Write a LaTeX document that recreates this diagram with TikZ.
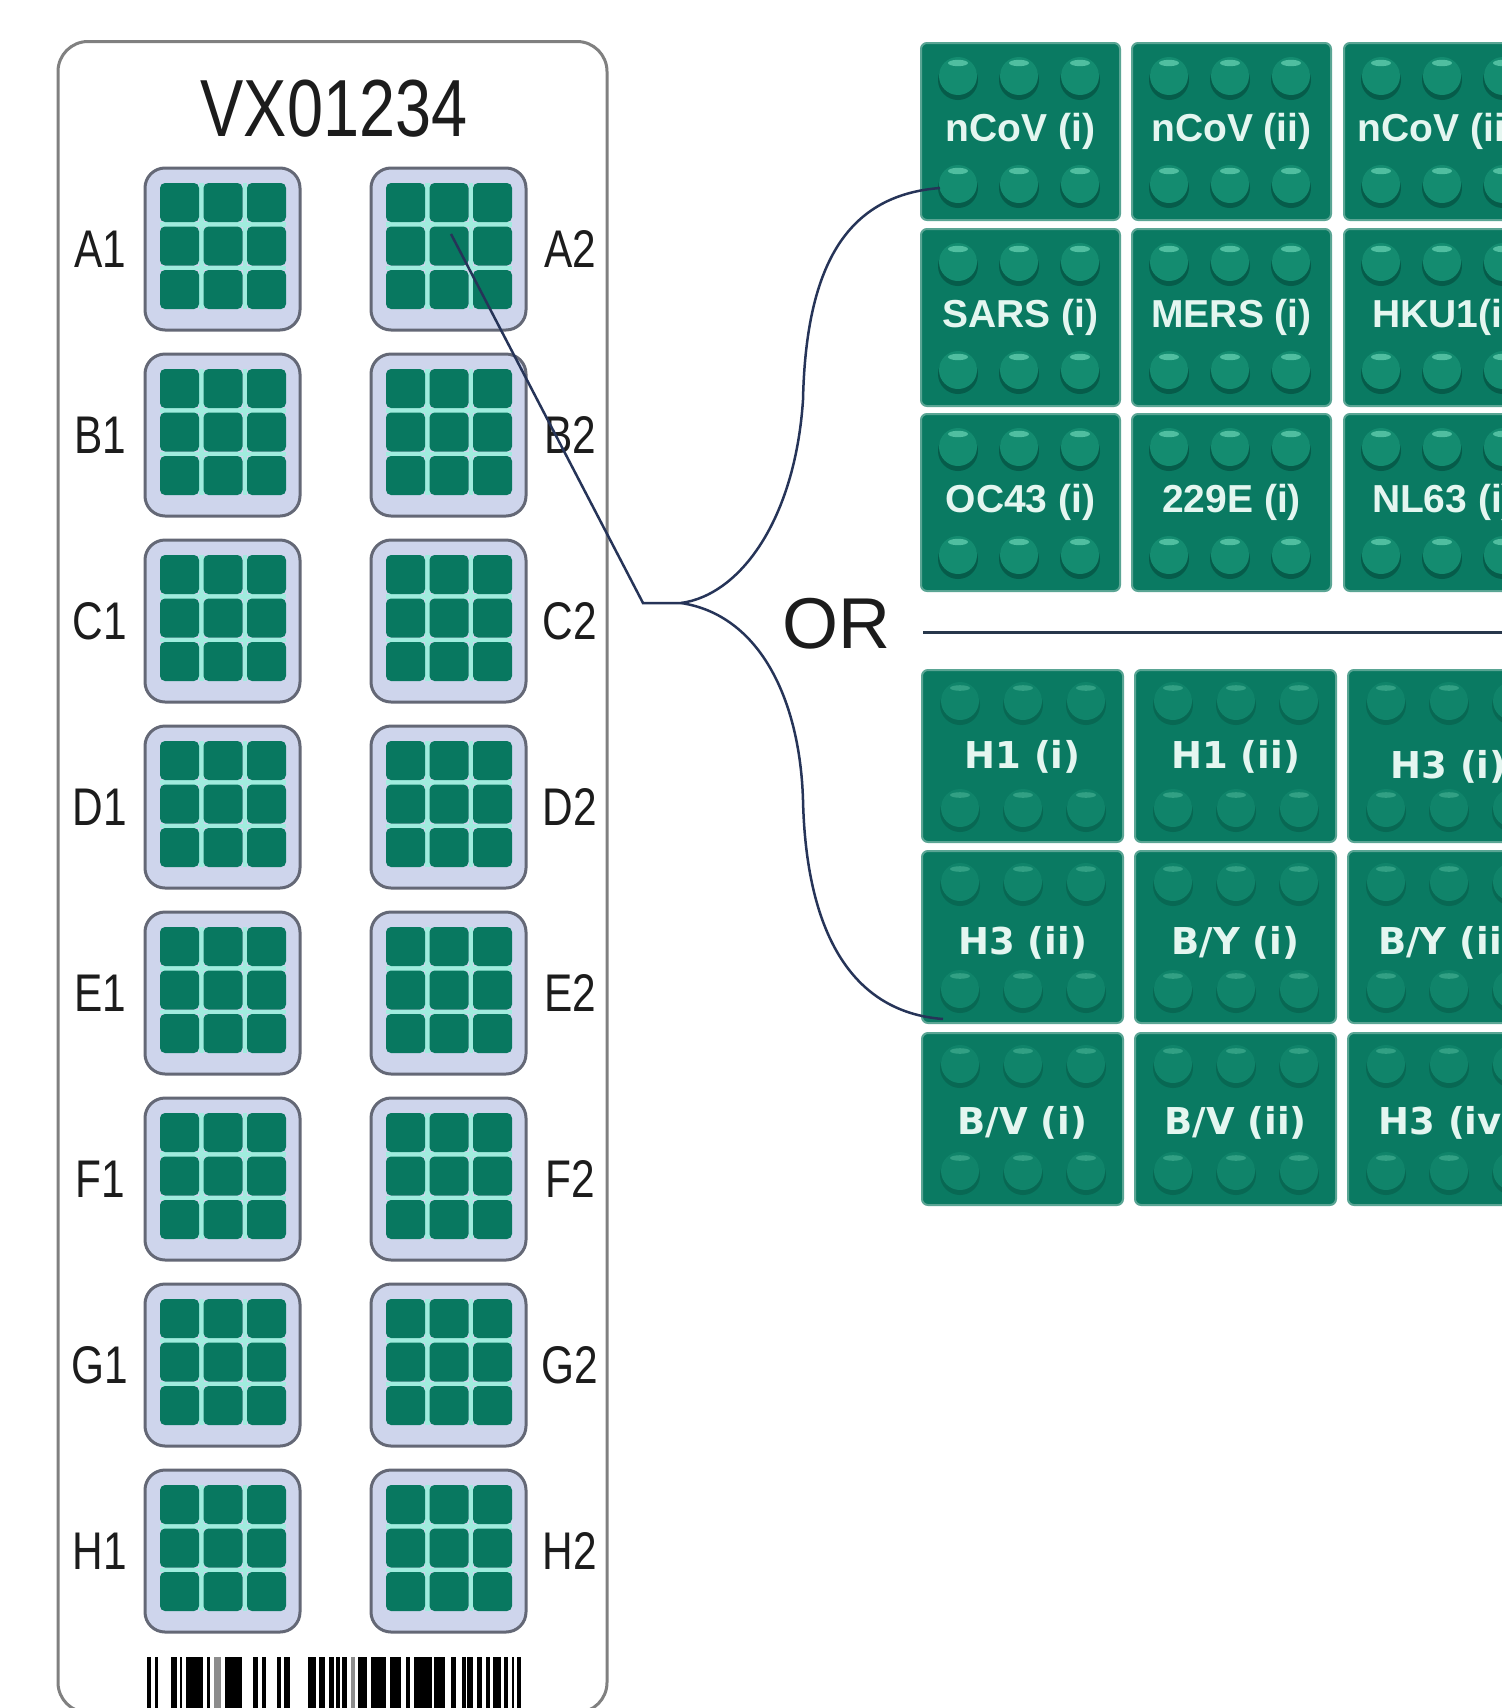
\documentclass[tikz,border=0pt]{standalone}
\usepackage{fontspec}
\setmainfont{Liberation Sans}
\newfontfamily\cardfont[FakeStretch=0.8]{Liberation Sans}
\newfontfamily\botfont{DejaVu Sans}
\definecolor{cellgreen}{RGB}{10,122,98}
\definecolor{celledge}{RGB}{90,165,148}
\definecolor{topbump}{RGB}{20,140,112}
\definecolor{topshadow}{RGB}{6,92,74}
\definecolor{tophi}{RGB}{80,190,160}
\definecolor{botbump}{RGB}{16,132,106}
\definecolor{botshadow}{RGB}{8,104,83}
\definecolor{bothi}{RGB}{50,160,132}
\definecolor{celltext}{RGB}{228,246,240}
\definecolor{wellgreen}{RGB}{8,120,96}
\definecolor{wellfill}{RGB}{206,213,236}
\definecolor{wellgray}{RGB}{100,104,118}
\definecolor{gapcyan}{RGB}{160,236,222}
\definecolor{cardgray}{RGB}{128,128,128}
\definecolor{labelgray}{RGB}{28,28,28}
\definecolor{linkblue}{RGB}{38,52,88}
\definecolor{sepline}{RGB}{40,55,75}
\tikzset{
  card/.style={draw=cardgray, line width=1.5pt, rounded corners=15pt, minimum width=274.5pt, minimum height=835.5pt, inner sep=0pt, fill=white},
  well/.style={draw=wellgray, line width=1.5pt, fill=wellfill, rounded corners=10pt, minimum width=77.5pt, minimum height=81pt, inner sep=0pt},
  wcell/.style={fill=wellgreen, minimum size=19.5pt, rounded corners=2.5pt, inner sep=0pt},
  gapline/.style={draw=gapcyan, line width=2.25pt},
  welllabel/.style={font=\cardfont\fontsize{26.5pt}{26.5pt}\selectfont, text=labelgray, inner sep=0pt},
  titlelabel/.style={font=\cardfont\fontsize{40.5pt}{40.5pt}\selectfont, text=labelgray, inner sep=0pt},
  panelcell/.style={fill=cellgreen, draw=celledge, line width=1pt, rounded corners=3pt, inner sep=0pt},
  topcellst/.style={panelcell, minimum width=99.5pt, minimum height=88.5pt},
  botcellst/.style={panelcell, minimum width=100.5pt, minimum height=86pt},
  toptext/.style={font=\bfseries\fontsize{19.5pt}{19.5pt}\selectfont, text=celltext, inner sep=0pt},
  bottext/.style={font=\botfont\bfseries\fontsize{18.5pt}{18.5pt}\selectfont, text=celltext, inner sep=0pt},
  ortext/.style={font=\fontsize{36pt}{36pt}\selectfont, text=labelgray, inner sep=0pt},
  link/.style={draw=linkblue, line width=1.25pt},
  sep/.style={draw=sepline, line width=1.5pt}
}
\newcommand\topcell[4]{%
  \node[topcellst] (#1) at (#2+99.5,#3+88.5) {};
  \foreach \bx in {37,98,159}{\foreach \by in {33,141}{%
    \fill[topshadow] (#2+\bx,#3+\by+4) circle[radius=10pt];
    \fill[topbump] (#2+\bx,#3+\by) circle[radius=9.5pt];
    \fill[tophi] (#2+\bx,#3+\by-13) ellipse[x radius=5pt, y radius=1.6pt];
  }}
  \node[toptext] (#1-txt) at (#2+99.5,#3+88) {#4};
}
\newcommand\botcell[5]{%
  \node[botcellst] (#1) at (#2+100.5,#3+86) {};
  \foreach \bx in {38,101,164}{\foreach \by in {31,138}{%
    \fill[botshadow] (#2+\bx,#3+\by+4) circle[radius=10pt];
    \fill[botbump] (#2+\bx,#3+\by) circle[radius=9.5pt];
    \fill[bothi] (#2+\bx,#3+\by-13) ellipse[x radius=5pt, y radius=1.4pt];
  }}
  \node[bottext] (#1-txt) at (#2+100.5,#3+#5) {#4};
}
\begin{document}
\begin{tikzpicture}[x=0.5pt,y=-0.5pt]
\useasboundingbox (0,0) rectangle (1502,1708);
\clip (0,0) rectangle (1502,1708);
\fill[white] (0,0) rectangle (1502,1708);

% card
\node[card] (card) at (332.5,877) {};
\node[titlelabel, anchor=base] (title) at (334,136) {VX01234};

% wells
\foreach \r [count=\i from 0] in {A,B,C,D,E,F,G,H}{
  \pgfmathsetmacro\wt{168+186*\i}
  \foreach \c/\wx/\lx in {1/145/100, 2/371/570}{
    \node[well] (w\r\c) at (\wx+77.5,\wt+81) {};
    \draw[gapline] (\wx+56.25,\wt+15) -- (\wx+56.25,\wt+141);
    \draw[gapline] (\wx+99.75,\wt+15) -- (\wx+99.75,\wt+141);
    \draw[gapline] (\wx+15,\wt+56.25) -- (\wx+141,\wt+56.25);
    \draw[gapline] (\wx+15,\wt+99.75) -- (\wx+141,\wt+99.75);
    \foreach \p in {0,1,2}{\foreach \q in {0,1,2}{
      \node[wcell] (w\r\c-\p\q) at (\wx+34.5+43.5*\p,\wt+34.5+43.5*\q) {};
    }}
    \node[welllabel] (l\r\c) at (\lx,\wt+81) {\r\c};
  }
}

% barcode
\foreach \a/\b in {147/151,155/158,171/177,180/182,186/203,207/210,225/242,253/258,262/266,277/281,284/290,308/316,319/325,329/334,336/340,342/347,358/367,371/386,390/401,406/410,414/432,434/445,451/456,462/466,467/473,477/482,486/490,493/501,504/508,512/514,517/521}{
  \fill[black] (\a,1657) rectangle (\b,1720);
}
\foreach \a/\b in {214/221,351/355}{
  \fill[black!45] (\a,1657) rectangle (\b,1720);
}

% top panel
\topcell{t11}{921}{43}{nCoV (i)}
\topcell{t12}{1132}{43}{nCoV (ii)}
\topcell{t13}{1344}{43}{nCoV (iii)}
\topcell{t21}{921}{229}{SARS (i)}
\topcell{t22}{1132}{229}{MERS (i)}
\topcell{t23}{1344}{229}{HKU1(i)}
\topcell{t31}{921}{414}{OC43 (i)}
\topcell{t32}{1132}{414}{229E (i)}
\topcell{t33}{1344}{414}{NL63 (i)}

% separator and OR
\node[ortext] (or) at (836,624) {OR};
\coordinate (sepl) at (923,632);
\coordinate (sepr) at (1502,632);
\draw[sep] (sepl) -- (sepr);

% bottom panel
\botcell{b11}{922}{670}{H1 (i)}{87}
\botcell{b12}{1135}{670}{H1 (ii)}{87}
\botcell{b13}{1348}{670}{H3 (i)}{97}
\botcell{b21}{922}{851}{H3 (ii)}{92}
\botcell{b22}{1135}{851}{B/Y (i)}{92}
\botcell{b23}{1348}{851}{B/Y (ii)}{92}
\botcell{b31}{922}{1033}{B/V (i)}{90}
\botcell{b32}{1135}{1033}{B/V (ii)}{90}
\botcell{b33}{1348}{1033}{H3 (iv)}{90}

% connectors
\coordinate (a2pick) at (451,234);
\coordinate (tip) at (643,603);
\coordinate (fork) at (681,603);
\coordinate (upend) at (940,188);
\coordinate (lowend) at (943,1019);
\draw[link] (a2pick) -- (tip) -- (fork);
\draw[link] (fork) .. controls (740,595) and (795,520) .. (803,400) .. controls (806,260) and (850,195) .. (upend);
\draw[link] (fork) .. controls (760,615) and (800,700) .. (803,800) .. controls (806,930) and (850,1012) .. (lowend);
\end{tikzpicture}
\end{document}
